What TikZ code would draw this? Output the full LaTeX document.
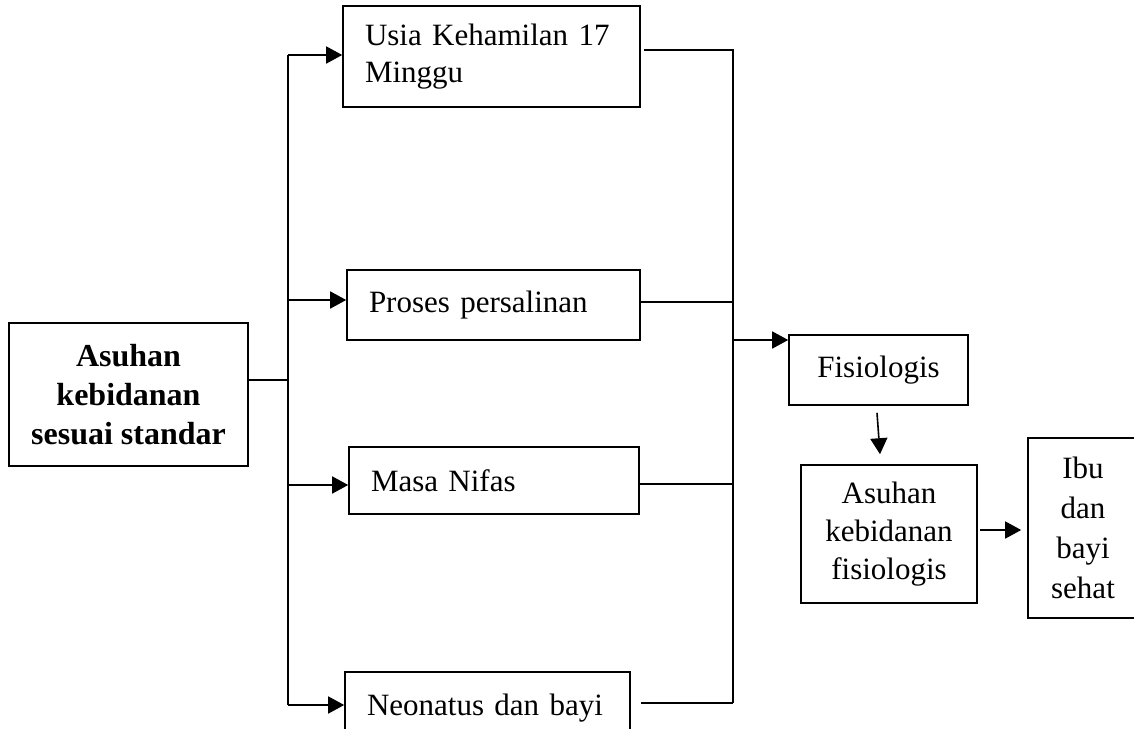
\documentclass[tikz,border=0pt]{standalone}
\usepackage{fontspec}
\setmainfont{Liberation Serif}
\usetikzlibrary{arrows.meta,positioning}

\begin{document}
\begin{tikzpicture}[x=0.5pt, y=-0.5pt, font=\fontsize{15.5}{18.5}\selectfont]
  \tikzset{box/.style={draw, line width=0.8pt, inner sep=0pt},
    leftbox/.style={box, align=left, text width=#1, inner xsep=11pt},
    midbox/.style={box, align=center},
    link/.style={line width=0.8pt},
    arr/.style={link, -{Triangle[length=8pt, width=8.5pt]}}}
  \useasboundingbox (0,0) rectangle (1134,728);
  \clip (0,0) rectangle (1134,728);
  \node[midbox, minimum width=119.5pt, minimum height=71.5pt, font=\fontsize{16}{19.5}\selectfont\bfseries] (std) at (128.5,394.5) {Asuhan\\kebidanan\\sesuai standar};
  \node[leftbox=126.5pt, minimum height=50.5pt] (usia) at (491.5,56.5) {Usia Kehamilan 17\\Minggu};
  \node[leftbox=124.5pt, minimum height=35pt] (proses) at (493.5,305) {Proses persalinan};
  \node[leftbox=123pt, minimum height=33.5pt] (nifas) at (494,480.5) {Masa Nifas};
  \node[leftbox=120.5pt, minimum height=36.5pt] (neo) at (487.5,708.5) {Neonatus dan bayi};
  \node[midbox, minimum width=89.5pt, minimum height=35pt] (fis) at (878.5,370) {Fisiologis};
  \node[midbox, minimum width=88pt, minimum height=69pt, font=\fontsize{15.5}{19}\selectfont] (afis) at (889,534) {Asuhan\\kebidanan\\fisiologis};
  \node[midbox, minimum width=55pt, minimum height=90pt, font=\fontsize{15.5}{20}\selectfont] (ibu) at (1083,528) {Ibu\\dan\\bayi\\sehat};
  % left trunk
  \coordinate (ls) at (288,380);
  \coordinate (l1) at (288,55);
  \coordinate (l2) at (288,300);
  \coordinate (l3) at (288,485);
  \coordinate (l4) at (288,705);
  \draw[link] (std.east |- ls) -- (ls);
  \draw[link] (l1) -- (l4);
  \draw[arr] (l1) -- (l1 -| usia.west);
  \draw[arr] (l2) -- (l2 -| proses.west);
  \draw[arr] (l3) -- (l3 -| nifas.west);
  \draw[arr] (l4) -- (l4 -| neo.west);
  % right trunk
  \coordinate (r1) at (733,50);
  \coordinate (r2) at (733,302);
  \coordinate (r3) at (733,484);
  \coordinate (r4) at (733,703);
  \coordinate (rf) at (733,340);
  \draw[link] ([xshift=1.5pt]usia.east |- r1) -- (r1) -- (r4);
  \draw[link] (proses.east |- r2) -- (r2);
  \draw[link] (nifas.east |- r3) -- (r3);
  \draw[link] ([xshift=5pt]neo.east |- r4) -- (r4);
  \draw[arr] (rf) -- (rf -| fis.west);
  \draw[arr] ([xshift=-0.75pt, yshift=-3.5pt]fis.south) -- ([xshift=-4.5pt, yshift=5pt]afis.north);
  \coordinate (ia) at (980,530);
  \draw[arr] (ia) -- ([xshift=-3pt]ibu.west |- ia);
\end{tikzpicture}
\end{document}
